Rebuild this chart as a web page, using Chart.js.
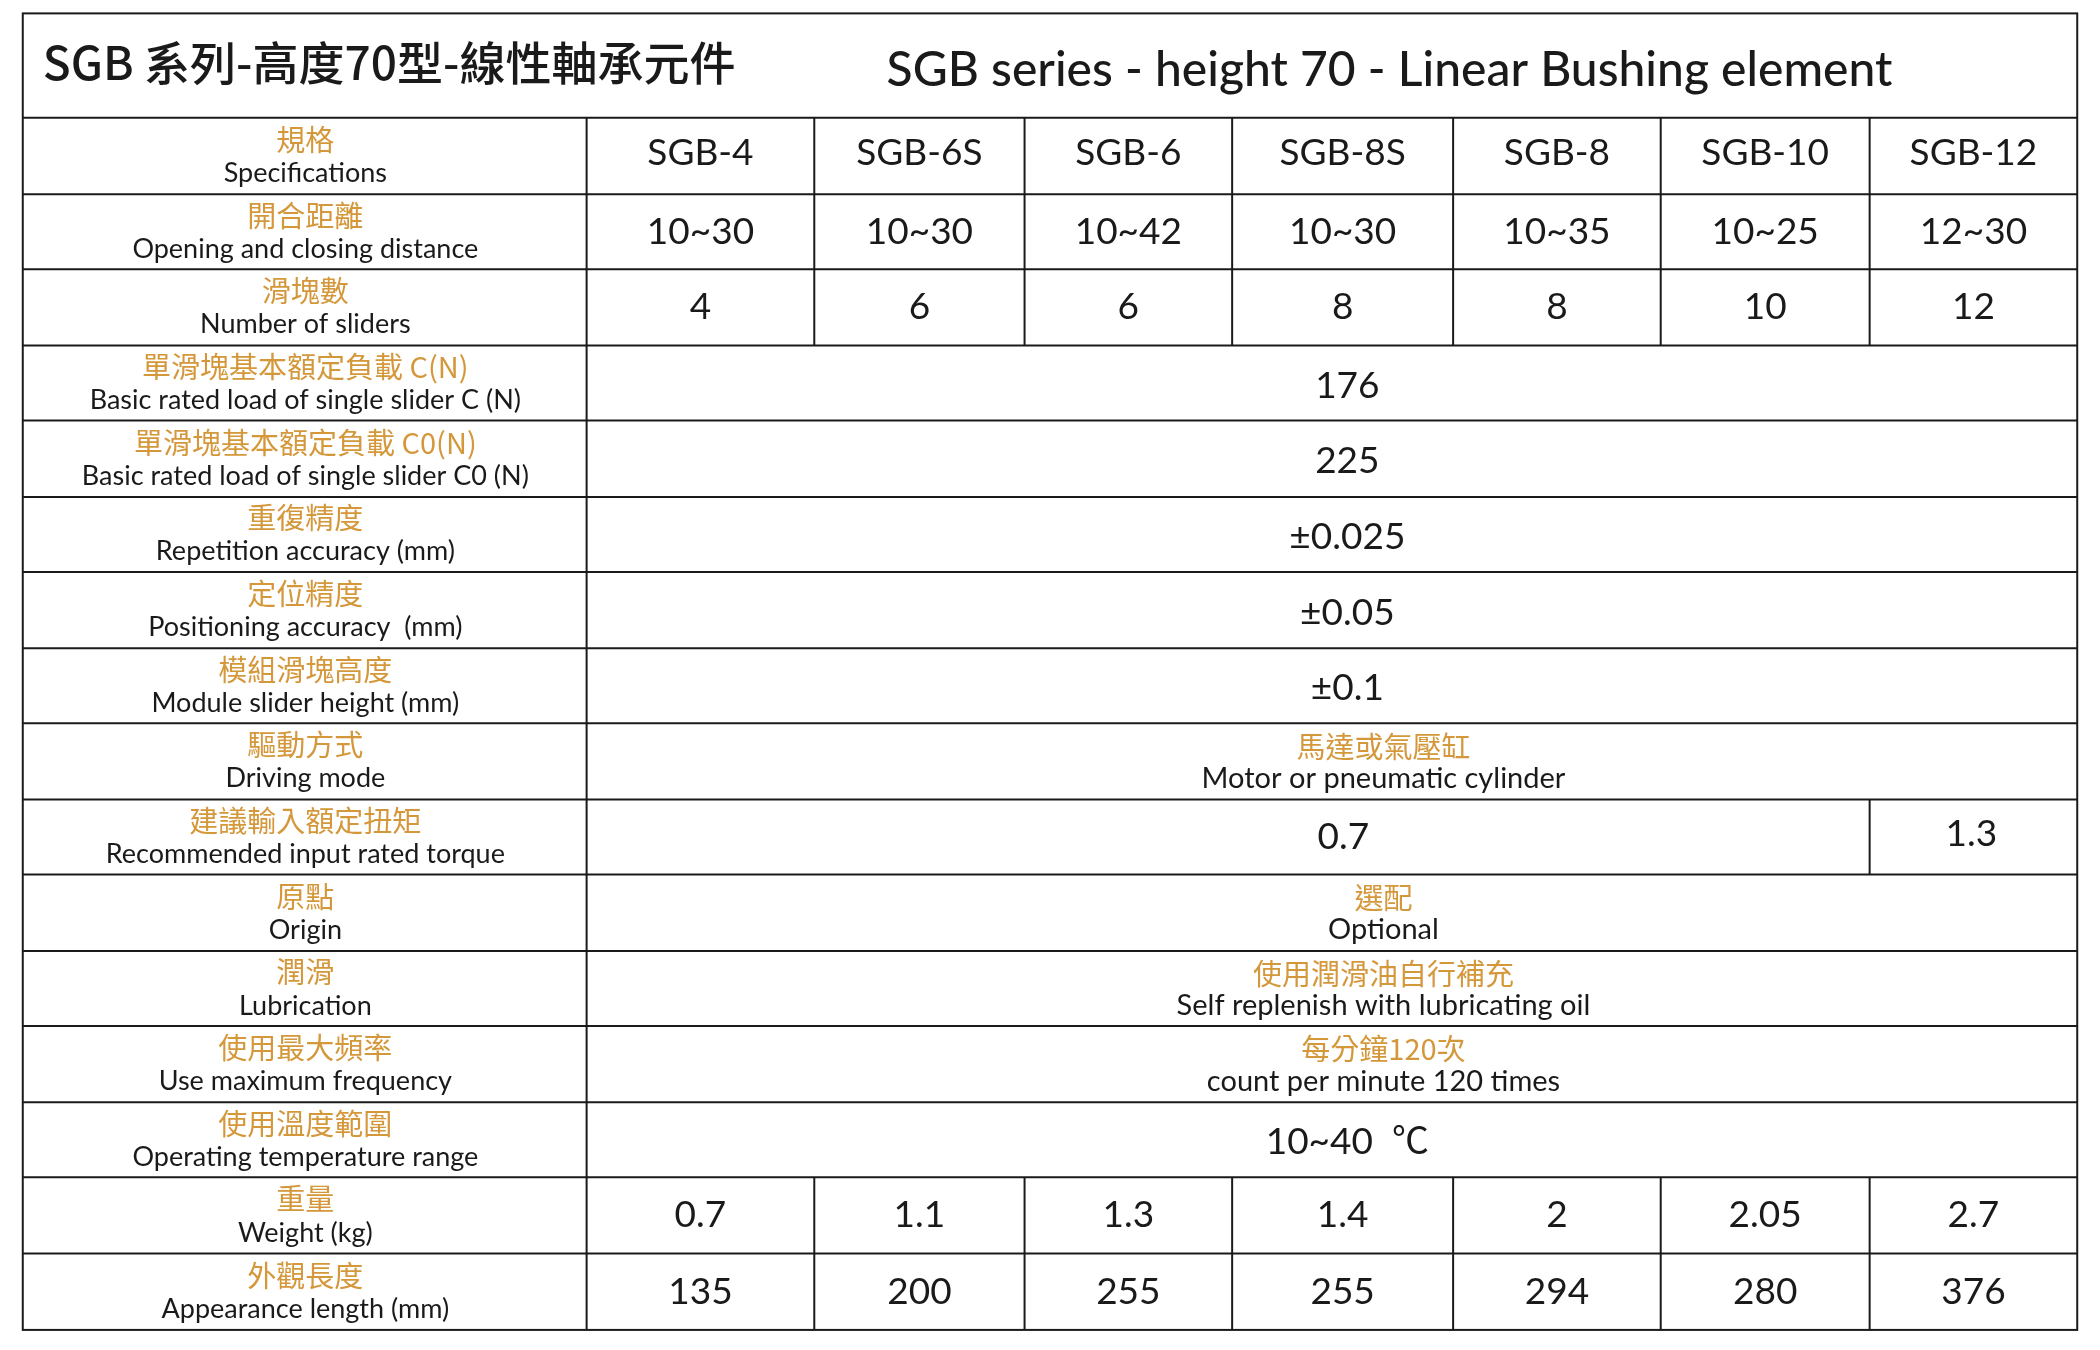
<!DOCTYPE html>
<html><head><meta charset="utf-8">
<script src="https://cdn.jsdelivr.net/npm/chart.js@4/dist/chart.umd.min.js"></script>
<style>html,body{margin:0;padding:0;background:#fff}#wrap{width:2100px;height:1350px}</style>
</head><body><div id="wrap"><canvas id="c" width="2100" height="1350"></canvas></div>
<script>
const titleZh = "SGB 系列-高度70型-線性軸承元件";
const titleEn = "SGB series - height 70 - Linear Bushing element";
const labelsZh = ["規格","開合距離","滑塊數","單滑塊基本額定負載 C(N)","單滑塊基本額定負載 C0(N)","重復精度","定位精度","模組滑塊高度","驅動方式","建議輸入額定扭矩","原點","潤滑","使用最大頻率","使用溫度範圍","重量","外觀長度"];
const labelsEn = ["Specifications","Opening and closing distance","Number of sliders","Basic rated load of single slider C (N)","Basic rated load of single slider C0 (N)","Repetition accuracy (mm)","Positioning accuracy  (mm)","Module slider height (mm)","Driving mode","Recommended input rated torque","Origin","Lubrication","Use maximum frequency","Operating temperature range","Weight (kg)","Appearance length (mm)"];
const models = ["SGB-4","SGB-6S","SGB-6","SGB-8S","SGB-8","SGB-10","SGB-12"];
const opening = ["10~30","10~30","10~42","10~30","10~35","10~25","12~30"];
const sliders = ["4","6","6","8","8","10","12"];
const weights = ["0.7","1.1","1.3","1.4","2","2.05","2.7"];
const lengths = ["135","200","255","255","294","280","376"];
const sharedZh = {8:"馬達或氣壓缸",10:"選配",11:"使用潤滑油自行補充",12:"每分鐘120次"};
const sharedEn = {3:"176",4:"225",5:"±0.025",6:"±0.05",7:"±0.1",8:"Motor or pneumatic cylinder",10:"Optional",11:"Self replenish with lubricating oil",12:"count per minute 120 times",13:"10~40  ℃"};
const torque = ["0.7","1.3"];
const colEdges = [17,438,608,765,920,1085,1240,1396,1551];
const rowEdges = [10,88,145,201,258,314,371,427,484,540,597,653,710,766,823,879,936,993];

const ORANGE="#d4973a", BLACK="#1a1a1a";
const LAT='"Lato","Noto Sans CJK TC",sans-serif', CJK='"Noto Sans CJK TC","Noto Sans",sans-serif';

const tablePlugin={id:'tbl',afterDraw(ch){
  const ctx=ch.ctx,X=v=>ch.scales.x.getPixelForValue(v),Y=v=>ch.scales.y.getPixelForValue(v);
  ctx.save();ctx.strokeStyle=BLACK;ctx.lineWidth=2;
  const L=X(colEdges[0]),R=X(colEdges[8]);
  ctx.strokeRect(L,Y(rowEdges[0]),R-L,Y(rowEdges[17])-Y(rowEdges[0]));
  for(let i=1;i<17;i++){ctx.beginPath();ctx.moveTo(L,Y(rowEdges[i]));ctx.lineTo(R,Y(rowEdges[i]));ctx.stroke();}
  const perCol=[0,1,2,14,15];
  for(let r=0;r<16;r++){
    const t=Y(rowEdges[r+1]),b=Y(rowEdges[r+2]);
    let cols=[1];
    if(perCol.includes(r))cols=[1,2,3,4,5,6,7];
    if(r===9)cols=[1,7];
    cols.forEach(c=>{ctx.beginPath();ctx.moveTo(X(colEdges[c]),t);ctx.lineTo(X(colEdges[c]),b);ctx.stroke();});
  }
  ctx.textBaseline='middle';
  ctx.fillStyle=BLACK;ctx.textAlign='left';
  ctx.font='500 46px '+CJK;ctx.fillText(titleZh,X(32),Y(47));
  ctx.font='500 48px '+LAT;ctx.fillText(titleEn,X(662),Y(53));
  ctx.textAlign='center';
  const txt=(s,x,y,f,col)=>{ctx.font=f;ctx.fillStyle=col;ctx.fillText(s,X(x),Y(y));};
  const zhF='29px '+CJK, enF='27px '+LAT, valF='37px '+LAT;
  for(let r=0;r<16;r++){
    const mid=(rowEdges[r+1]+rowEdges[r+2])/2;
    txt(labelsZh[r],228,mid-12,zhF,ORANGE);
    txt(labelsEn[r],228,mid+13,enF,BLACK);
    let vals=null;
    if(r===0)vals=models;else if(r===1)vals=opening;else if(r===2)vals=sliders;else if(r===14)vals=weights;else if(r===15)vals=lengths;
    if(vals){vals.forEach((v,i)=>txt(v,(colEdges[i+1]+colEdges[i+2])/2,mid+(r===0?-2:0),valF,BLACK));}
    else if(r===9){txt(torque[0],1003,mid,valF,BLACK);txt(torque[1],1472,mid-2,valF,BLACK);}
    else if(sharedZh[r]){txt(sharedZh[r],1033,mid-11,zhF,ORANGE);txt(sharedEn[r],1033,mid+13,'29px '+LAT,BLACK);}
    else if(sharedEn[r]){txt(sharedEn[r],1006,mid+2,valF,BLACK);}
  }
  ctx.restore();
}};
new Chart(document.getElementById('c'),{type:'scatter',data:{datasets:[{data:[]}]},
 options:{responsive:false,animation:false,devicePixelRatio:1,layout:{padding:0},
  plugins:{legend:{display:false},tooltip:{enabled:false}},
  scales:{x:{display:false,min:0,max:1568},y:{display:false,min:0,max:1008,reverse:true}}},
 plugins:[tablePlugin]});
</script></body></html>
